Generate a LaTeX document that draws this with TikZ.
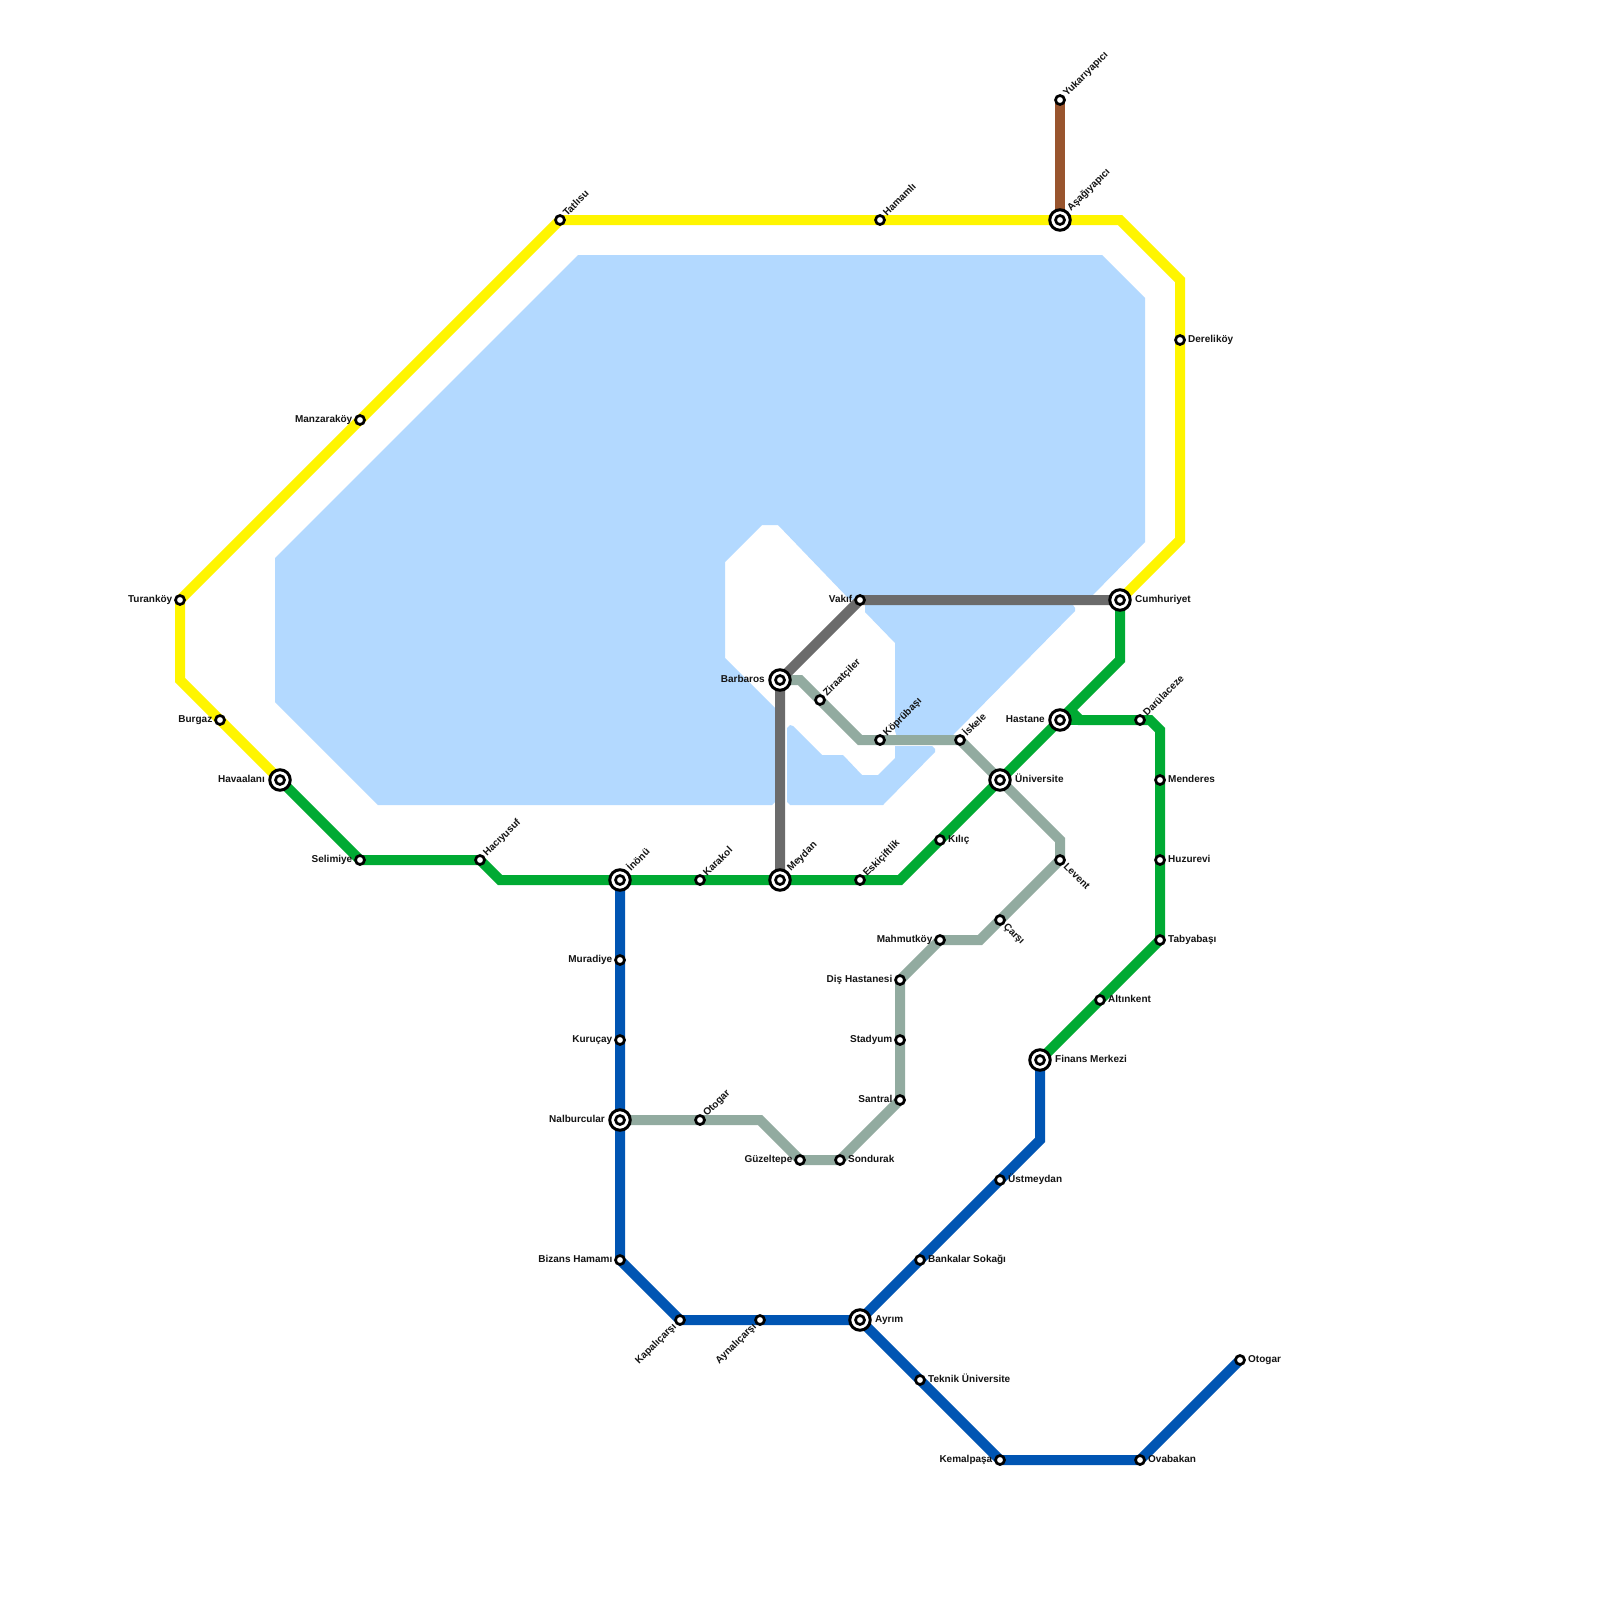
\documentclass[tikz,border=0pt]{standalone}
\usepackage{fontspec}
\setmainfont{Liberation Sans}
\pgfdeclarelayer{bg}
\pgfsetlayers{bg,main}
\definecolor{cyellow}{HTML}{FFF500}
\definecolor{cgreen}{HTML}{00AA33}
\definecolor{cblue}{HTML}{0055B3}
\definecolor{cgray}{HTML}{6B6B6B}
\definecolor{csage}{HTML}{92ABA0}
\definecolor{cbrown}{HTML}{99552E}
\definecolor{cwater}{HTML}{B3D9FF}
\tikzset{
  stn/.style={circle,draw=black,fill=white,line width=2.7pt,minimum size=9pt,inner sep=0pt},
  ring/.style={circle,draw=black,fill=white,line width=3pt,minimum size=20.5pt,inner sep=0pt},
  lab/.style={inner sep=0pt,font=\fontsize{10}{12}\selectfont\bfseries,text=black!92},
  lE/.style={lab,anchor=base west,xshift=8pt,yshift=-2pt},
  lW/.style={lab,anchor=base east,xshift=-7.5pt,yshift=-2pt},
  lNE/.style={lab,anchor=base west,xshift=7pt,yshift=3pt,rotate=45},
  lSE/.style={lab,anchor=base west,xshift=3pt,yshift=-7pt,rotate=-45},
  lSW/.style={lab,anchor=base east,xshift=-3pt,yshift=-7pt,rotate=45},
  xE/.style={lab,anchor=base west,xshift=15pt,yshift=-2pt},
  xW/.style={lab,anchor=base east,xshift=-15pt,yshift=-2pt},
  xNE/.style={lab,anchor=base west,xshift=11pt,yshift=8pt,rotate=45},
  metro/.style={line width=10pt,line join=miter,miter limit=10},
}
\newcommand{\sta}[5]{\node[stn] (#1) at (#2,#3) {}; \node[#4] (#1-l) at (#1) {#5};}
\newcommand{\xsta}[5]{\node[ring] (#1-r) at (#2,#3) {}; \node[stn] (#1) at (#2,#3) {}; \node[#4] (#1-l) at (#1) {#5};}
\begin{document}
\begin{tikzpicture}[x=1pt,y=-1pt]
\useasboundingbox (0,0) rectangle (1600,1600);
% stations: yellow
\sta{tur}{180}{600}{lW}{Turanköy}
\sta{bur}{220}{720}{lW}{Burgaz}
\xsta{hav}{280}{780}{xW}{Havaalanı}
\sta{man}{360}{420}{lW}{Manzaraköy}
\sta{tat}{560}{220}{lNE}{Tatlısu}
\sta{ham}{880}{220}{lNE}{Hamamlı}
\xsta{asa}{1060}{220}{xNE}{Aşağıyapıcı}
\sta{yuk}{1060}{100}{lNE}{Yukarıyapıcı}
\sta{der}{1180}{340}{lE}{Dereliköy}
\xsta{cum}{1120}{600}{xE}{Cumhuriyet}
% green
\sta{sel}{360}{860}{lW}{Selimiye}
\sta{hac}{480}{860}{lNE}{Hacıyusuf}
\xsta{ino}{620}{880}{xNE}{İnönü}
\sta{kar}{700}{880}{lNE}{Karakol}
\xsta{mey}{780}{880}{xNE}{Meydan}
\sta{esk}{860}{880}{lNE}{Eskiçiftlik}
\sta{kil}{940}{840}{lE}{Kılıç}
\xsta{uni}{1000}{780}{xE}{Üniversite}
\xsta{has}{1060}{720}{xW}{Hastane}
\sta{dar}{1140}{720}{lNE}{Darülaceze}
\sta{men}{1160}{780}{lE}{Menderes}
\sta{huz}{1160}{860}{lE}{Huzurevi}
\sta{tab}{1160}{940}{lE}{Tabyabaşı}
\sta{alt}{1100}{1000}{lE}{Altınkent}
\xsta{fin}{1040}{1060}{xE}{Finans Merkezi}
% blue
\sta{ust}{1000}{1180}{lE}{Üstmeydan}
\sta{ban}{920}{1260}{lE}{Bankalar Sokağı}
\xsta{ayr}{860}{1320}{xE}{Ayrım}
\sta{tek}{920}{1380}{lE}{Teknik Üniversite}
\sta{kem}{1000}{1460}{lW}{Kemalpaşa}
\sta{ova}{1140}{1460}{lE}{Ovabakan}
\sta{oto}{1240}{1360}{lE}{Otogar}
\sta{mur}{620}{960}{lW}{Muradiye}
\sta{kur}{620}{1040}{lW}{Kuruçay}
\xsta{nal}{620}{1120}{xW}{Nalburcular}
\sta{biz}{620}{1260}{lW}{Bizans Hamamı}
\sta{kap}{680}{1320}{lSW}{Kapalıçarşı}
\sta{ayn}{760}{1320}{lSW}{Aynalıçarşı}
% sage
\sta{otg}{700}{1120}{lNE}{Otogar}
\sta{guz}{800}{1160}{lW}{Güzeltepe}
\sta{son}{840}{1160}{lE}{Sondurak}
\sta{san}{900}{1100}{lW}{Santral}
\sta{sta}{900}{1040}{lW}{Stadyum}
\sta{dis}{900}{980}{lW}{Diş Hastanesi}
\sta{mah}{940}{940}{lW}{Mahmutköy}
\sta{car}{1000}{920}{lSE}{Çarşı}
\sta{lev}{1060}{860}{lSE}{Levent}
\sta{isk}{960}{740}{lNE}{İskele}
\sta{kop}{880}{740}{lNE}{Köprübaşı}
\sta{zir}{820}{700}{lNE}{Ziraatçiler}
\xsta{bar}{780}{680}{xW}{Barbaros}
\sta{vak}{860}{600}{lW}{Vakıf}
% bends
\coordinate (y1) at (180,680);
\coordinate (y2) at (1120,220);
\coordinate (y3) at (1180,280);
\coordinate (y4) at (1180,540);
\coordinate (g1) at (500,880);
\coordinate (g2) at (900,880);
\coordinate (g3) at (1120,660);
\coordinate (g4) at (1070,710);
\coordinate (g5) at (1080,720);
\coordinate (g6) at (1150,720);
\coordinate (g7) at (1160,730);
\coordinate (b1) at (1040,1140);
\coordinate (s1) at (760,1120);
\coordinate (s2) at (980,940);
\coordinate (s3) at (1060,840);
\coordinate (s4) at (860,740);
\coordinate (s5) at (800,680);
\begin{pgfonlayer}{bg}
\fill[white] (0,0) rectangle (1600,1600);
% water
\fill[cwater] (578,255) -- (1102,255) -- (1145,298) -- (1145,542) -- (1088,600)
  -- (1070,600) -- (1073,605) -- (1075,608) -- (1075,611) -- (953,735) -- (953,740) -- (898,740) -- (895,731) -- (895,643) -- (865,612)
  -- (865,600) -- (850,600) -- (778,525) -- (762,525) -- (725,562) -- (725,658) -- (775,708)
  -- (775,802) -- (772,805) -- (378,805) -- (275,702) -- (275,558) -- cycle;
\fill[cwater] (895,746) -- (932,746) -- (935,749) -- (935,752) -- (883,805) -- (790,805) -- (787,802)
  -- (787,728) -- (790,725) -- (793,726) -- (822,755) -- (843,755) -- (862,775) -- (878,775) -- (895,758) -- cycle;
% lines
\draw[metro,cbrown] (yuk.center) -- (asa.center);
\draw[metro,csage] (nal.center) -- (otg.center) -- (s1) -- (guz.center) -- (son.center) -- (san.center) -- (sta.center) -- (dis.center) -- (mah.center) -- (s2) -- (car.center) -- (lev.center) -- (s3) -- (uni.center) -- (isk.center) -- (kop.center) -- (s4) -- (zir.center) -- (s5) -- (bar.center);
\draw[metro,cgray] (mey.center) -- (bar.center) -- (vak.center) -- (cum.center);
\draw[metro,cyellow] (hav.center) -- (bur.center) -- (y1) -- (tur.center) -- (man.center) -- (tat.center) -- (ham.center) -- (asa.center) -- (y2) -- (y3) -- (der.center) -- (y4) -- (cum.center);
\draw[metro,cblue] (ino.center) -- (mur.center) -- (kur.center) -- (nal.center) -- (biz.center) -- (kap.center) -- (ayn.center) -- (ayr.center) -- (ban.center) -- (ust.center) -- (b1) -- (fin.center);
\draw[metro,cblue] (ayr.center) -- (tek.center) -- (kem.center) -- (ova.center) -- (oto.center);
\draw[metro,cgreen] (hav.center) -- (sel.center) -- (hac.center) -- (g1) -- (ino.center) -- (kar.center) -- (mey.center) -- (esk.center) -- (g2) -- (kil.center) -- (uni.center) -- (has.center) -- (g3) -- (cum.center);
\draw[metro,cgreen] (has.center) -- (g5);
\draw[metro,cgreen] (g4) -- (g5) -- (dar.center) -- (g6) -- (g7) -- (men.center) -- (huz.center) -- (tab.center) -- (alt.center) -- (fin.center);
\end{pgfonlayer}
\end{tikzpicture}
\end{document}
